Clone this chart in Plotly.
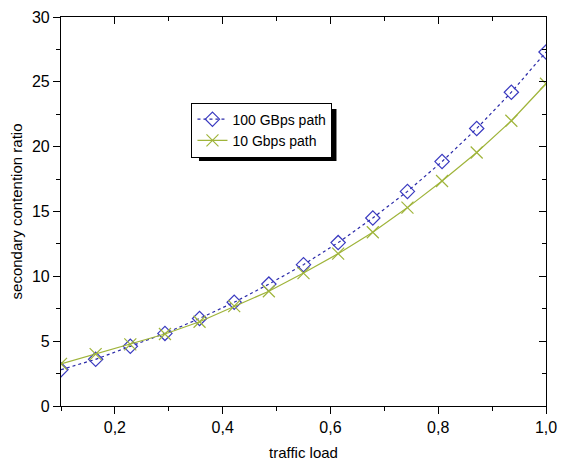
import plotly.graph_objects as go

traffic_load = [0.1, 0.1643, 0.2286, 0.2929, 0.3571, 0.4214, 0.4857, 0.55,
                0.6143, 0.6786, 0.7429, 0.8071, 0.8714, 0.9357, 1.0]
ratio_100g = [2.8, 3.6, 4.6, 5.6, 6.75, 8.0, 9.4, 10.9, 12.6, 14.5, 16.55,
              18.85, 21.4, 24.2, 27.3]
ratio_10g = [3.25, 4.0, 4.75, 5.55, 6.5, 7.7, 8.85, 10.25, 11.75, 13.4, 15.3,
             17.35, 19.55, 22.0, 24.85]
x_ticks = [0.2, 0.4, 0.6, 0.8, 1.0]
y_ticks = [0, 5, 10, 15, 20, 25, 30]

FONT = "Liberation Sans, Arial, sans-serif"
BLUE = "#2a2aa8"
GREEN = "#9fb43a"

fig = go.Figure()
fig.add_trace(go.Scatter(
    x=traffic_load, y=ratio_100g, name="100 GBps path", mode="lines+markers",
    line=dict(color=BLUE, width=1.2, dash="dot"),
    marker=dict(symbol="diamond-open", size=11, color="#3a3ac0", line=dict(width=1.2)),
))
fig.add_trace(go.Scatter(
    x=traffic_load, y=ratio_10g, name="10 Gbps path", mode="lines+markers",
    line=dict(color=GREEN, width=1.2),
    marker=dict(symbol="x-thin-open", size=12, color=GREEN, line=dict(width=1.2, color=GREEN)),
))
# helper trace for mirrored (inward) axes
fig.add_trace(go.Scatter(x=[None], y=[None], xaxis="x2", yaxis="y2",
                         showlegend=False, hoverinfo="skip"))

axis_common = dict(showgrid=False, zeroline=False, showline=True, automargin=False,
                   linecolor="black", linewidth=1.2, tickcolor="black",
                   ticklabeloverflow="allow",
                   tickfont=dict(family=FONT, size=16, color="black"))

fig.update_layout(
    width=558, height=455,
    margin=dict(l=53, r=20, t=9, b=57),
    paper_bgcolor="white", plot_bgcolor="white",
    separators=",.",
    font=dict(family=FONT, size=15, color="black"),
    xaxis=dict(range=[0.1, 1.0], tickvals=x_ticks, tickformat=".1f",
               ticks="outside", ticklen=7, tickwidth=1.2,
               minor=dict(tickvals=[0.1, 0.3, 0.5, 0.7, 0.9], ticks="outside",
                          ticklen=4, tickcolor="black"),
               title=dict(text="traffic load", font=dict(family=FONT, size=15), standoff=12),
               **axis_common),
    yaxis=dict(range=[0, 30], tickvals=y_ticks,
               ticks="outside", ticklen=7, tickwidth=1.2,
               minor=dict(dtick=2.5, ticks="outside", ticklen=4, tickcolor="black"),
               title=dict(text="secondary contention ratio", font=dict(family=FONT, size=15), standoff=8),
               **axis_common),
    xaxis2=dict(overlaying="x", side="top", range=[0.1, 1.0], tickvals=x_ticks,
                showticklabels=False, ticks="inside", ticklen=7, tickwidth=1.2,
                minor=dict(tickvals=[0.1, 0.3, 0.5, 0.7, 0.9], ticks="inside",
                           ticklen=4, tickcolor="black"),
                **axis_common),
    yaxis2=dict(overlaying="y", side="right", range=[0, 30], tickvals=y_ticks,
                showticklabels=False, ticks="inside", ticklen=7, tickwidth=1.2,
                minor=dict(dtick=2.5, ticks="inside", ticklen=4, tickcolor="black"),
                **axis_common),
    legend=dict(x=0.269, y=0.780, xanchor="left", yanchor="top",
                bgcolor="white", bordercolor="black", borderwidth=1,
                font=dict(family=FONT, size=14, color="black"),
                tracegroupgap=0, itemwidth=30),
    shapes=[dict(type="rect", xref="paper", yref="paper",
                 x0=0.2845, x1=0.568, y0=0.630, y1=0.7635,
                 fillcolor="black", line=dict(width=0), layer="above")],
)

fig.write_html("out.html")
